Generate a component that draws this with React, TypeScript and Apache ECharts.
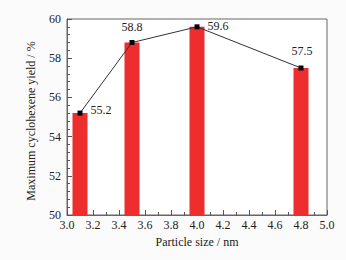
import React, { useEffect, useRef } from "react";
import * as echarts from "echarts";

const particleSizes = [3.1, 3.5, 4.0, 4.8];
const yields = [55.2, 58.8, 59.6, 57.5];
const labelPositions = ["right", "top", "right", "top"];
const yTitle = "Maximum cyclohexene yield / %";
const xTitle = "Particle size / nm";

export default function App() {
  const ref = useRef<HTMLDivElement>(null);
  useEffect(() => {
    const chart = echarts.init(ref.current!, null, { renderer: "svg" });
    const font = "'Liberation Serif', 'Times New Roman', serif";
    const pts = particleSizes.map((x, i) => [x, yields[i]]);
    chart.setOption({
      animation: false,
      backgroundColor: "#fbfbfb",
      textStyle: { fontFamily: font },
      grid: {
        left: 67,
        right: 19,
        top: 19,
        bottom: 45,
        show: true,
        backgroundColor: "#ffffff",
        borderColor: "#666",
        borderWidth: 1,
      },
      graphic: [
        {
          type: "text",
          x: 31,
          y: 121,
          rotation: Math.PI / 2,
          style: {
            text: yTitle,
            fill: "#222",
            font: "12px 'Liberation Serif', 'Times New Roman', serif",
            align: "center",
            verticalAlign: "middle",
          },
        },
      ],
      xAxis: {
        type: "value",
        min: 3.0,
        max: 5.0,
        interval: 0.2,
        name: xTitle,
        nameLocation: "middle",
        nameGap: 21,
        nameTextStyle: { color: "#222", fontSize: 12, fontFamily: font },
        axisLine: { lineStyle: { color: "#666" } },
        axisTick: { inside: true, length: 5, lineStyle: { color: "#555" } },
        minorTick: { show: true, splitNumber: 2, length: 3, lineStyle: { color: "#555" } },
        axisLabel: {
          color: "#222",
          fontSize: 12,
          fontFamily: font,
          margin: 4,
          formatter: (v: number) => v.toFixed(1),
        },
        splitLine: { show: false },
      },
      yAxis: {
        type: "value",
        min: 50,
        max: 60,
        interval: 2,
        axisLine: { show: true, lineStyle: { color: "#666" } },
        axisTick: { show: true, inside: true, length: 5, lineStyle: { color: "#555" } },
        minorTick: { show: true, splitNumber: 5, length: 3, lineStyle: { color: "#555" } },
        axisLabel: { color: "#222", fontSize: 12, fontFamily: font, margin: 6 },
        splitLine: { show: false },
      },
      series: [
        {
          type: "bar",
          data: pts,
          barWidth: 15,
          itemStyle: { color: "#ee2e2e" },
          z: 1,
        },
        {
          type: "line",
          data: pts.map((p, i) => ({
            value: p,
            label: {
              show: true,
              position: labelPositions[i],
              offset: i === 2 ? [3, -1] : i === 0 ? [3, -3] : i === 3 ? [1, -4] : [0, -2],
            },
          })),
          symbol: "rect",
          symbolSize: 5,
          itemStyle: { color: "#000" },
          lineStyle: { color: "#333", width: 1 },
          label: {
            show: true,
            color: "#222",
            fontSize: 12,
            fontFamily: font,
            formatter: (p: any) => p.value[1].toFixed(1),
          },
          z: 3,
        },
      ],
    });
    return () => chart.dispose();
  }, []);
  return <div ref={ref} style={{ width: 346, height: 260, position: "absolute", left: 0, top: 0 }} />;
}
